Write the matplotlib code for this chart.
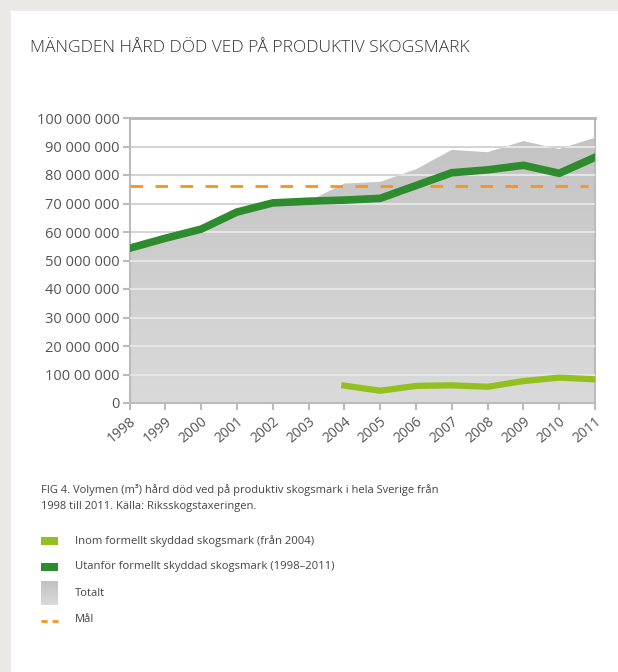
import numpy as np
import matplotlib
matplotlib.use("Agg")
import matplotlib.pyplot as plt
from matplotlib.patches import Rectangle

# Data
years = [1998, 1999, 2000, 2001, 2002, 2003, 2004, 2005, 2006, 2007, 2008, 2009, 2010, 2011]
utanfor = [54.3, 57.8, 61.0, 67.0, 70.2, 70.8, 71.2, 71.8, 76.3, 80.8, 81.8, 83.4, 80.6, 86.2]
totalt = [54.3, 57.8, 61.0, 67.0, 70.2, 70.8, 77.0, 77.6, 82.0, 88.8, 88.0, 91.9, 89.1, 93.1]
inom_years = [2004, 2005, 2006, 2007, 2008, 2009, 2010, 2011]
inom = [6.1, 4.3, 6.0, 6.2, 5.7, 7.7, 8.9, 8.3]
mal = 76.0  # million m3

yticks = [0, 10, 20, 30, 40, 50, 60, 70, 80, 90, 100]
ytick_labels = ["0", "100 00 000", "20 000 000", "30 000 000", "40 000 000", "50 000 000",
                "60 000 000", "70 000 000", "80 000 000", "90 000 000", "100 000 000"]

DARK_GREEN = "#2e8b2e"
LIGHT_GREEN = "#93c01f"
ORANGE = "#f7941d"
TXT = "#555555"
FONT = "Open Sans"
gray_cmap = matplotlib.colors.LinearSegmentedColormap.from_list("g", ["#dadada", "#c2c2c2"])

fig = plt.figure(figsize=(6.18, 6.72), dpi=100)
fig.patch.set_facecolor("#eae9e5")
# white page panel
fig.add_artist(Rectangle((11 / 618, 0), 1, 1 - 11 / 672, transform=fig.transFigure,
                         facecolor="white", edgecolor="none", zorder=0))

ax = fig.add_axes([129.5 / 618, 1 - 403 / 672, 465.5 / 618, 285 / 672])
ax.set_facecolor("none")
ax.set_xlim(years[0], years[-1])
ax.set_ylim(0, 100)

# grid under the area
for v in yticks[1:-1]:
    ax.axhline(v, color="#cccccc", lw=1.2, zorder=1)

# Totalt area with vertical gradient
poly = ax.fill_between(years, 0, totalt, color="none", lw=0, zorder=2)
grad = np.linspace(0, 1, 256).reshape(-1, 1)
img = ax.imshow(grad, extent=[years[0], years[-1], 0, 100], origin="lower",
                cmap=gray_cmap, aspect="auto", zorder=2)
clip = poly.get_paths()[0]
img.set_clip_path(clip, transform=ax.transData)

# lighter grid lines inside the area
for v in yticks[1:-1]:
    ln = ax.axhline(v, color="#e6e6e6", lw=1.4, zorder=3)
    ln.set_clip_path(clip, transform=ax.transData)

ax.plot([years[0], years[-1] - 0.2], [mal, mal], color=ORANGE, lw=2, dashes=(4.5, 4.5), zorder=4)
ax.plot(years, utanfor, color=DARK_GREEN, lw=5.5, solid_joinstyle="miter", zorder=5)
ax.plot(inom_years, inom, color=LIGHT_GREEN, lw=4.5, zorder=5)

for s in ["left", "bottom", "right"]:
    ax.spines[s].set_color("#bbbbbb")
    ax.spines[s].set_linewidth(1.5)
ax.spines["top"].set_color("#b5b5b5")
ax.spines["top"].set_linewidth(2)

ax.set_yticks(yticks)
ax.set_yticklabels(ytick_labels, fontsize=10.5, color=TXT, family=FONT)
ax.set_xticks(years)
ax.set_xticklabels([str(y) for y in years], rotation=40, ha="right", rotation_mode="anchor",
                   fontsize=10, color=TXT, family=FONT)
ax.tick_params(axis="both", color="#bbbbbb", width=1.5, length=5)
ax.tick_params(axis="y", pad=2)
ax.tick_params(axis="x", pad=3)

fig.text(30 / 618, 1 - 48 / 672, "MÄNGDEN HÅRD DÖD VED PÅ PRODUKTIV SKOGSMARK",
         fontsize=12.5, family=FONT, fontweight="light", color="#333333", va="center")

fig.text(41 / 618, 1 - 490 / 672, "FIG 4. Volymen (m³) hård död ved på produktiv skogsmark i hela Sverige från",
         fontsize=8, family=FONT, color="#444444", va="center")
fig.text(41 / 618, 1 - 507 / 672, "1998 till 2011. Källa: Riksskogstaxeringen.",
         fontsize=8, family=FONT, color="#444444", va="center")

# legend
leg_items = [("Inom formellt skyddad skogsmark (från 2004)", 541),
             ("Utanför formellt skyddad skogsmark (1998–2011)", 567),
             ("Totalt", 593),
             ("Mål", 620)]
for label, yy in leg_items:
    fig.text(75 / 618, 1 - yy / 672, label, fontsize=8.1, family=FONT, color="#444444", va="center")
sw = 17 / 618
fig.add_artist(Rectangle((41 / 618, 1 - 545 / 672), sw, 8 / 672, transform=fig.transFigure,
                         facecolor=LIGHT_GREEN, edgecolor="none"))
fig.add_artist(Rectangle((41 / 618, 1 - 571 / 672), sw, 8 / 672, transform=fig.transFigure,
                         facecolor=DARK_GREEN, edgecolor="none"))
lax = fig.add_axes([41 / 618, 1 - 605 / 672, sw, 24 / 672])
lax.imshow(grad[::-1], cmap=gray_cmap, aspect="auto", extent=[0, 1, 0, 1], origin="upper")
lax.axis("off")
fig.add_artist(plt.Line2D([41 / 618, 58 / 618], [1 - 621 / 672] * 2, transform=fig.transFigure,
                          color=ORANGE, lw=2, dashes=(2.2, 1.8)))

fig.savefig("out.png", dpi=100)
